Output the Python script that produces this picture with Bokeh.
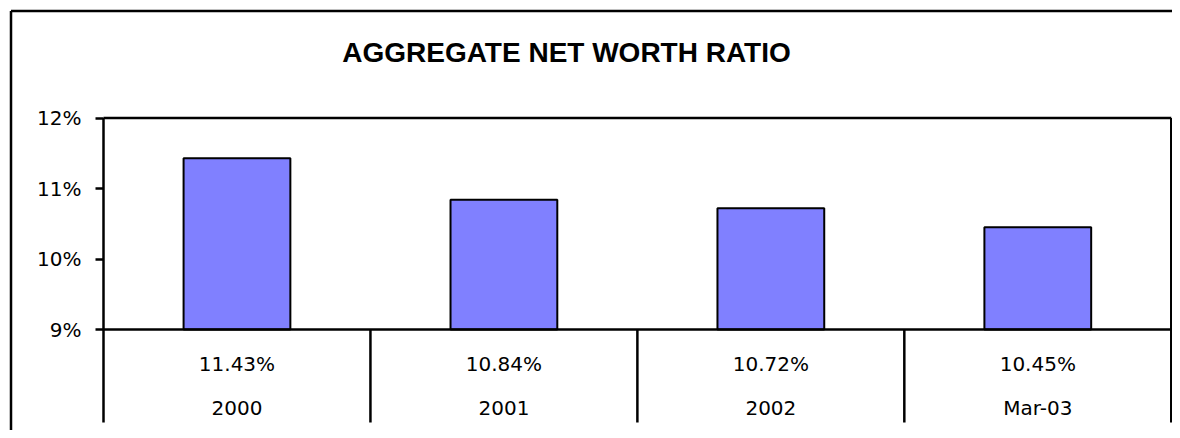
from bokeh.plotting import figure
from bokeh.models import Range1d, FixedTicker, PrintfTickFormatter
from bokeh.embed import file_html
from bokeh.resources import INLINE
from bokeh.core.properties import value

# ---- data ----
categories = ["2000", "2001", "2002", "Mar-03"]
ratios = [11.43, 10.84, 10.72, 10.45]          # percent
y_ticks = [9, 10, 11, 12]
title_text = "AGGREGATE NET WORTH RATIO"

# ---- layout constants (canvas pixels) ----
CANVAS_W, CANVAS_H = 1172, 430
FRAME_LEFT, FRAME_TOP = 99, 113
X0_PX = 103           # canvas x of first category boundary
PX_PER_CAT = 266.94
Y_TOP_PX = 117.5      # canvas y of the 12% line
PX_PER_PCT = 70.5

def dx(px):
    return (px - X0_PX) / PX_PER_CAT

def dy(px):
    return max(y_ticks) + (Y_TOP_PX - px) / PX_PER_PCT

x_start = dx(FRAME_LEFT)
x_end = dx(CANVAS_W)
y_end = dy(FRAME_TOP)
y_start = dy(CANVAS_H)

y_top = max(y_ticks)
y_base = min(y_ticks)
row_value_y = dy(363)
row_cat_y = dy(407)
table_bottom_y = dy(422)

n = len(categories)
xc = [i + 0.5 for i in range(n)]

p = figure(width=CANVAS_W, height=CANVAS_H, output_backend="svg", toolbar_location=None,
           x_range=Range1d(x_start, x_end), y_range=Range1d(y_start, y_end),
           x_axis_location=None, min_border_left=FRAME_LEFT, min_border_top=FRAME_TOP,
           min_border_right=0, min_border_bottom=0)
try:
    p.title = None
except Exception:
    p.title.visible = False

p.grid.visible = False
p.outline_line_color = None
p.background_fill_color = "white"
p.border_fill_color = "white"

SMALL_FONT = "DejaVu Sans"
SMALL_SIZE = "20px"

# y axis
ax = p.yaxis[0]
ax.ticker = FixedTicker(ticks=y_ticks)
ax.formatter = PrintfTickFormatter(format="%d%%")
ax.axis_line_color = None
ax.major_tick_in = 4
ax.major_tick_out = 4
ax.major_tick_line_width = 2.5
ax.major_tick_line_color = "black"
ax.minor_tick_line_color = None
ax.major_label_standoff = 14
ax.major_label_text_font = SMALL_FONT
ax.major_label_text_font_size = SMALL_SIZE
ax.major_label_text_color = "black"

# bars
p.vbar(x=xc, top=ratios, bottom=y_base, width=0.4, fill_color="#8080FF",
       line_color="black", line_width=2)

# frame and data-table lines
x0s, y0s, x1s, y1s = [], [], [], []
x0s.append(0); y0s.append(y_top); x1s.append(n); y1s.append(y_top)
x0s.append(0); y0s.append(y_base); x1s.append(n); y1s.append(y_base)
for xx in (0, n):
    x0s.append(xx); y0s.append(y_top); x1s.append(xx); y1s.append(table_bottom_y)
for xx in range(1, n):
    x0s.append(xx); y0s.append(y_base); x1s.append(xx); y1s.append(table_bottom_y)
p.segment(x0=x0s, y0=y0s, x1=x1s, y1=y1s, line_color="black", line_width=2.5,
          level="annotation")

# outer chart-area border (left and top edges visible)
bx, by = dx(10.5), dy(10.5)
p.segment(x0=[bx, bx], y0=[by, by], x1=[bx, dx(CANVAS_W)], y1=[dy(CANVAS_H), by],
          line_color="black", line_width=2.5, level="annotation")

# title
p.text(x=[dx(566)], y=[dy(52)], text=[title_text], level="annotation",
       text_font=value("Liberation Sans"), text_font_style="bold", text_font_size="28px",
       text_color="black", text_align="center", text_baseline="alphabetic")

# data table text
p.text(x=xc, y=[row_value_y] * n, text=[f"{v:.2f}%" for v in ratios],
       text_font=value(SMALL_FONT), text_font_size=SMALL_SIZE, text_color="black",
       text_align="center", text_baseline="middle")
p.text(x=xc, y=[row_cat_y] * n, text=categories,
       text_font=value(SMALL_FONT), text_font_size=SMALL_SIZE, text_color="black",
       text_align="center", text_baseline="middle")

open("out.html", "w").write(file_html(p, INLINE))
